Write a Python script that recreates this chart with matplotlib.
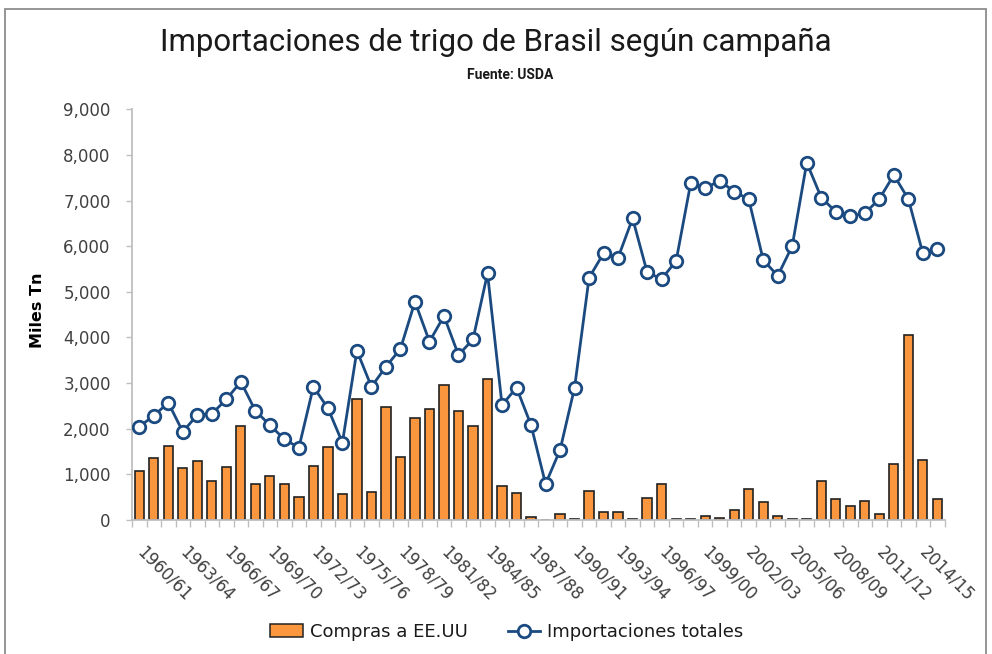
import matplotlib
matplotlib.use('Agg')
import matplotlib.pyplot as plt
from matplotlib.patches import Patch, Rectangle
from matplotlib.lines import Line2D
from matplotlib.ticker import FuncFormatter
import numpy as np

# campañas 1960/61 - 2015/16
campanas = ['1960/61', '1961/62', '1962/63', '1963/64', '1964/65', '1965/66', '1966/67',
            '1967/68', '1968/69', '1969/70', '1970/71', '1971/72', '1972/73', '1973/74',
            '1974/75', '1975/76', '1976/77', '1977/78', '1978/79', '1979/80', '1980/81',
            '1981/82', '1982/83', '1983/84', '1984/85', '1985/86', '1986/87', '1987/88',
            '1988/89', '1989/90', '1990/91', '1991/92', '1992/93', '1993/94', '1994/95',
            '1995/96', '1996/97', '1997/98', '1998/99', '1999/00', '2000/01', '2001/02',
            '2002/03', '2003/04', '2004/05', '2005/06', '2006/07', '2007/08', '2008/09',
            '2009/10', '2010/11', '2011/12', '2012/13', '2013/14', '2014/15', '2015/16']

# miles de toneladas
compras_eeuu = [1080, 1365, 1630, 1130, 1285, 860, 1155, 2060, 780, 965,
                780, 500, 1190, 1605, 570, 2645, 620, 2470, 1375, 2235,
                2425, 2960, 2390, 2060, 3085, 750, 585, 70, 0, 130,
                20, 640, 180, 180, 20, 490, 780, 20, 20, 80,
                50, 210, 670, 405, 85, 20, 20, 860, 450, 300,
                420, 140, 1230, 4055, 1310, 450]

importaciones = [2045, 2285, 2570, 1935, 2300, 2325, 2645, 3030, 2395, 2080,
                 1770, 1585, 2920, 2450, 1695, 3710, 2920, 3360, 3750, 4785,
                 3910, 4470, 3615, 3960, 5405, 2520, 2900, 2080, 790, 1535,
                 2900, 5310, 5845, 5750, 6610, 5430, 5280, 5680, 7380, 7270,
                 7435, 7195, 7030, 5700, 5350, 6005, 7830, 7065, 6755, 6660,
                 6720, 7035, 7560, 7035, 5845, 5940]

naranja = '#F9963E'
azul = '#1B4A80'
gris = '#BFBFBF'
texto = '#404040'
narrow = ['Roboto', 'DejaVu Sans']

W, H = 992, 654
fig = plt.figure(figsize=(W / 100, H / 100), dpi=100)

# marco del gráfico
fig.add_artist(Rectangle((5 / W, -0.05), 981 / W, 1.05 - 9 / H, transform=fig.transFigure,
                         fill=False, edgecolor='#8C8C8C', linewidth=1.3))

ax = fig.add_axes([132 / W, 134 / H, 812.6 / W, 410.7 / H])

x = np.arange(len(campanas))
ax.bar(x, compras_eeuu, width=0.64, color=naranja, edgecolor='#222222', linewidth=1.2, zorder=2)
ax.plot(x, importaciones, color=azul, linewidth=2.0, marker='o', markersize=9,
        markerfacecolor='white', markeredgecolor=azul, markeredgewidth=2.0, zorder=3)

ax.set_xlim(-0.5, len(campanas) - 0.5)
ax.set_ylim(0, 9000)
ax.set_yticks(range(0, 9001, 1000))
ax.yaxis.set_major_formatter(FuncFormatter(lambda v, p: f'{int(v):,}'))

for s in ['top', 'right']:
    ax.spines[s].set_visible(False)
for s in ['left', 'bottom']:
    ax.spines[s].set_color(gris)
    ax.spines[s].set_linewidth(1.3)

ax.tick_params(axis='y', length=4.3, color=gris, width=1, pad=11, labelsize=12, labelcolor=texto)

idx = list(range(0, len(campanas), 3))
ax.set_xticks(idx)
ax.set_xticklabels([campanas[i] for i in idx])
ax.set_xticks(np.arange(-0.5, len(campanas), 1), minor=True)
ax.tick_params(axis='x', which='major', length=0, pad=21, labelsize=12, labelcolor=texto)
ax.tick_params(axis='x', which='minor', length=5, color=gris, width=1)
for lbl in ax.get_xticklabels():
    lbl.set_rotation(-45)
    lbl.set_ha('left')
    lbl.set_va('center')
    lbl.set_rotation_mode('anchor')

fig.text(0.5, 1 - 42 / H, 'Importaciones de trigo de Brasil según campaña', ha='center', va='center',
         fontsize=22.5, family=narrow, fontstretch='condensed', color='#1A1A1A')
fig.text(510 / W, 1 - 75 / H, 'Fuente: USDA', ha='center', va='center', fontsize=10,
         fontweight='bold', family=narrow, color='#1A1A1A')
fig.text(38 / W, 1 - 310 / H, 'Miles Tn', rotation=90, ha='center', va='center',
         fontsize=11.5, fontweight='bold', color='black')

handles = [Patch(facecolor=naranja, edgecolor='#222222', linewidth=1.1),
           Line2D([0], [0], color=azul, linewidth=2.0, marker='o', markersize=9,
                  markerfacecolor='white', markeredgecolor=azul, markeredgewidth=2.0)]
fig.legend(handles, ['Compras a EE.UU', 'Importaciones totales'], loc='center',
           bbox_to_anchor=(507 / W, 22 / H), ncol=2, frameon=False, fontsize=13,
           handlelength=1.8, handletextpad=0.4, columnspacing=2.2, labelcolor='#1A1A1A')

fig.savefig('out.png', dpi=100)
